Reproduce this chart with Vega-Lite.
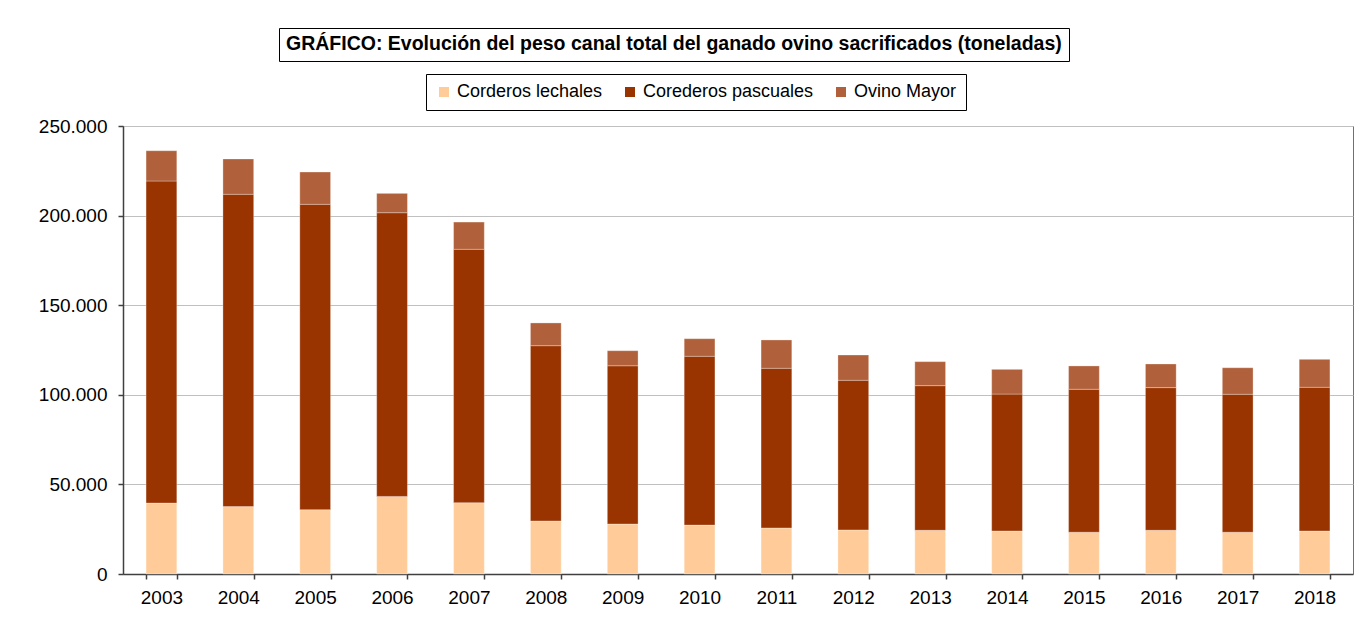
{
  "$schema": "https://vega.github.io/schema/vega-lite/v6.json",
  "width": 1230,
  "height": 448,
  "autosize": {"type": "none"},
  "padding": {"left": 123, "top": 126, "right": 14, "bottom": 44},
  "background": "white",
  "config": {
    "locale": {"number": {"decimal": ",", "thousands": ".", "grouping": [3], "currency": ["", " €"]}},
    "font": "Liberation Sans",
    "view": {"stroke": "#707070", "strokeWidth": 1},
    "axis": {
      "labelFont": "Liberation Sans",
      "labelFontSize": 19,
      "labelColor": "#000000",
      "domainColor": "#404040",
      "tickColor": "#404040",
      "domainWidth": 1.5,
      "tickWidth": 1.5,
      "tickSize": 5,
      "gridColor": "#c0c0c0",
      "gridWidth": 1,
      "title": null
    }
  },
  "layer": [
    {
      "data": {
        "values": [
          {"year": "2003", "serie": "Corderos lechales", "toneladas": 39600},
          {"year": "2003", "serie": "Corederos pascuales", "toneladas": 179700},
          {"year": "2003", "serie": "Ovino Mayor", "toneladas": 16900},
          {"year": "2004", "serie": "Corderos lechales", "toneladas": 37600},
          {"year": "2004", "serie": "Corederos pascuales", "toneladas": 174300},
          {"year": "2004", "serie": "Ovino Mayor", "toneladas": 19700},
          {"year": "2005", "serie": "Corderos lechales", "toneladas": 35900},
          {"year": "2005", "serie": "Corederos pascuales", "toneladas": 170400},
          {"year": "2005", "serie": "Ovino Mayor", "toneladas": 18000},
          {"year": "2006", "serie": "Corderos lechales", "toneladas": 43300},
          {"year": "2006", "serie": "Corederos pascuales", "toneladas": 158300},
          {"year": "2006", "serie": "Ovino Mayor", "toneladas": 10800},
          {"year": "2007", "serie": "Corderos lechales", "toneladas": 39800},
          {"year": "2007", "serie": "Corederos pascuales", "toneladas": 141400},
          {"year": "2007", "serie": "Ovino Mayor", "toneladas": 15200},
          {"year": "2008", "serie": "Corderos lechales", "toneladas": 29600},
          {"year": "2008", "serie": "Corederos pascuales", "toneladas": 97800},
          {"year": "2008", "serie": "Ovino Mayor", "toneladas": 12700},
          {"year": "2009", "serie": "Corderos lechales", "toneladas": 27900},
          {"year": "2009", "serie": "Corederos pascuales", "toneladas": 88300},
          {"year": "2009", "serie": "Ovino Mayor", "toneladas": 8400},
          {"year": "2010", "serie": "Corderos lechales", "toneladas": 27300},
          {"year": "2010", "serie": "Corederos pascuales", "toneladas": 94200},
          {"year": "2010", "serie": "Ovino Mayor", "toneladas": 9800},
          {"year": "2011", "serie": "Corderos lechales", "toneladas": 25700},
          {"year": "2011", "serie": "Corederos pascuales", "toneladas": 89100},
          {"year": "2011", "serie": "Ovino Mayor", "toneladas": 15800},
          {"year": "2012", "serie": "Corderos lechales", "toneladas": 24600},
          {"year": "2012", "serie": "Corederos pascuales", "toneladas": 83500},
          {"year": "2012", "serie": "Ovino Mayor", "toneladas": 14100},
          {"year": "2013", "serie": "Corderos lechales", "toneladas": 24400},
          {"year": "2013", "serie": "Corederos pascuales", "toneladas": 80700},
          {"year": "2013", "serie": "Ovino Mayor", "toneladas": 13400},
          {"year": "2014", "serie": "Corderos lechales", "toneladas": 24000},
          {"year": "2014", "serie": "Corederos pascuales", "toneladas": 76400},
          {"year": "2014", "serie": "Ovino Mayor", "toneladas": 13800},
          {"year": "2015", "serie": "Corderos lechales", "toneladas": 23300},
          {"year": "2015", "serie": "Corederos pascuales", "toneladas": 79800},
          {"year": "2015", "serie": "Ovino Mayor", "toneladas": 13000},
          {"year": "2016", "serie": "Corderos lechales", "toneladas": 24400},
          {"year": "2016", "serie": "Corederos pascuales", "toneladas": 79600},
          {"year": "2016", "serie": "Ovino Mayor", "toneladas": 13200},
          {"year": "2017", "serie": "Corderos lechales", "toneladas": 23300},
          {"year": "2017", "serie": "Corederos pascuales", "toneladas": 77000},
          {"year": "2017", "serie": "Ovino Mayor", "toneladas": 14800},
          {"year": "2018", "serie": "Corderos lechales", "toneladas": 24000},
          {"year": "2018", "serie": "Corederos pascuales", "toneladas": 80200},
          {"year": "2018", "serie": "Ovino Mayor", "toneladas": 15600}
        ]
      },
      "mark": {"type": "bar", "stroke": "#ffffff", "strokeWidth": 0.6, "strokeOpacity": 0.5},
      "encoding": {
        "x": {
          "field": "year",
          "type": "ordinal",
          "scale": {"paddingInner": 0.6, "paddingOuter": 0.3},
          "axis": {"labelAngle": 0, "tickBand": "extent", "grid": false, "labelPadding": 9}
        },
        "y": {
          "field": "toneladas",
          "type": "quantitative",
          "stack": "zero",
          "scale": {"domain": [0, 250000], "nice": false},
          "axis": {"values": [0, 50000, 100000, 150000, 200000, 250000], "format": ",.0f", "grid": true, "labelPadding": 11}
        },
        "order": {"field": "serie", "sort": "ascending"},
        "color": {
          "field": "serie",
          "type": "nominal",
          "scale": {
            "domain": ["Corderos lechales", "Corederos pascuales", "Ovino Mayor"],
            "range": ["#ffcc99", "#993300", "#b0603a"]
          },
          "legend": {
            "title": null,
            "orient": "none",
            "legendX": 303,
            "legendY": -52,
            "direction": "horizontal",
            "strokeColor": "#000000",
            "padding": 9,
            "symbolType": "square",
            "symbolSize": 100,
            "symbolStrokeWidth": 0,
            "labelFont": "Liberation Sans",
            "labelFontSize": 18,
            "labelColor": "#000000",
            "labelOffset": 4,
            "labelLimit": 400,
            "columnPadding": 18,
            "encode": {"legend": {"update": {"strokeWidth": {"value": 1}}}}
          }
        }
      }
    },
    {
      "data": {"values": [{"t": "titulo"}]},
      "mark": {"type": "point", "opacity": 0},
      "encoding": {
        "shape": {
          "field": "t",
          "type": "nominal",
          "legend": {
            "title": "GRÁFICO: Evolución del peso canal total del ganado ovino sacrificados (toneladas)",
            "values": [],
            "orient": "none",
            "legendX": 156,
            "legendY": -98,
            "strokeColor": "#000000",
            "padding": 7,
            "titleFont": "Liberation Sans",
            "titleFontSize": 19.5,
            "titleFontWeight": "bold",
            "titleColor": "#000000",
            "titleLimit": 2000,
            "titlePadding": 0,
            "encode": {"legend": {"update": {"strokeWidth": {"value": 2.5}}}}
          }
        }
      }
    }
  ]
}
